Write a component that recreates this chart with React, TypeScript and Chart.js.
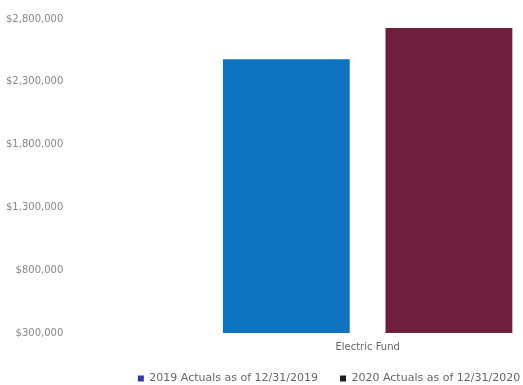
import React, { useEffect, useRef } from "react";
import { Chart, registerables } from "chart.js";

Chart.register(...registerables);

const categories = ["Electric Fund"];
const seriesLabels = ["2019 Actuals as of 12/31/2019", "2020 Actuals as of 12/31/2020"];
const actuals2019 = [2480000];
const actuals2020 = [2728000];
const barColors = ["#0f74c0", "#6d1f3c"];
const legendMarkerColors = ["#3838a0", "#221a1e"];
const yMin = 300000;
const yMax = 2800000;
const yStep = 500000;

export default function App() {
  const ref = useRef<HTMLCanvasElement | null>(null);
  useEffect(() => {
    document.body.style.margin = "0";
    document.body.style.overflow = "hidden";
    if (!ref.current) return;
    const chart = new Chart(ref.current, {
      type: "bar",
      data: {
        labels: categories,
        datasets: [
          { label: seriesLabels[0], data: actuals2019, backgroundColor: barColors[0] },
          { label: seriesLabels[1], data: actuals2020, backgroundColor: barColors[1] },
        ],
      },
      options: {
        responsive: false,
        animation: false,
        maintainAspectRatio: false,
        layout: { padding: { top: 19, right: 44, left: 0, bottom: -9 } },
        datasets: { bar: { categoryPercentage: 0.56, barPercentage: 0.78 } },
        plugins: {
          tooltip: { enabled: false },
          legend: {
            position: "bottom",
            labels: {
              font: { family: "DejaVu Sans", size: 11 },
              color: "#666",
              boxWidth: 6,
              boxHeight: 6,
              padding: 22,
              generateLabels: (c) =>
                c.data.datasets.map((d, i) => ({
                  text: d.label as string,
                  fillStyle: legendMarkerColors[i],
                  strokeStyle: legendMarkerColors[i],
                  fontColor: "#666",
                  lineWidth: 0,
                  datasetIndex: i,
                  hidden: false,
                })),
            },
          },
        },
        scales: {
          x: {
            grid: { display: false, drawTicks: false },
            border: { display: false },
            ticks: { font: { family: "DejaVu Sans", size: 10 }, color: "#666", padding: 8 },
            afterFit: (scale) => {
              scale.height = 18;
            },
          },
          y: {
            min: yMin,
            max: yMax,
            grid: { display: false },
            border: { display: false },
            ticks: {
              stepSize: yStep,
              font: { family: "DejaVu Sans", size: 10 },
              color: "#888",
              padding: 6,
              callback: (v) => "$" + Number(v).toLocaleString("en-US"),
            },
          },
        },
      },
    });
    return () => chart.destroy();
  }, []);
  return (
    <div style={{ width: 702, height: 385 }}>
      <canvas ref={ref} width={702} height={385} />
    </div>
  );
}
